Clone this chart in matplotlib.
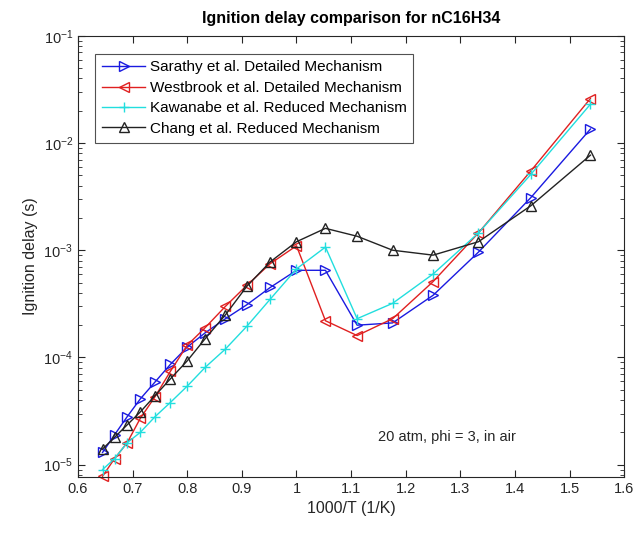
import numpy as np
import matplotlib
matplotlib.use("Agg")
import matplotlib.pyplot as plt
from matplotlib.ticker import LogLocator, NullFormatter

plt.rcParams['font.family'] = ['Liberation Sans', 'DejaVu Sans']

# --- data (1000/T and ignition delay in s) ---
inv_T = [0.645, 0.667, 0.690, 0.714, 0.741, 0.769, 0.800, 0.833, 0.870, 0.909,
         0.952, 1.000, 1.053, 1.111, 1.176, 1.250, 1.333, 1.429, 1.538]

sarathy = [1.3e-5, 1.9e-5, 2.8e-5, 4.1e-5, 5.9e-5, 8.6e-5, 1.25e-4, 1.7e-4, 2.3e-4, 3.1e-4,
           4.5e-4, 6.5e-4, 6.5e-4, 2.0e-4, 2.1e-4, 3.8e-4, 9.6e-4, 3.1e-3, 1.35e-2]
westbrook = [7.8e-6, 1.14e-5, 1.6e-5, 2.7e-5, 4.3e-5, 7.4e-5, 1.3e-4, 1.9e-4, 3.0e-4, 4.7e-4,
             7.5e-4, 1.1e-3, 2.2e-4, 1.6e-4, 2.3e-4, 5.1e-4, 1.45e-3, 5.5e-3, 2.6e-2]
kawanabe = [9e-6, 1.14e-5, 1.6e-5, 2.0e-5, 2.8e-5, 3.8e-5, 5.4e-5, 8.1e-5, 1.2e-4, 1.95e-4,
            3.5e-4, 6.7e-4, 1.07e-3, 2.3e-4, 3.2e-4, 6.0e-4, 1.45e-3, 5.1e-3, 2.3e-2]
chang = [1.4e-5, 1.8e-5, 2.35e-5, 3.1e-5, 4.4e-5, 6.3e-5, 9.3e-5, 1.5e-4, 2.5e-4, 4.6e-4,
         7.8e-4, 1.2e-3, 1.6e-3, 1.35e-3, 1.0e-3, 9.0e-4, 1.2e-3, 2.6e-3, 7.7e-3]

labels = ['Sarathy et al. Detailed Mechanism', 'Westbrook et al. Detailed Mechanism',
          'Kawanabe et al. Reduced Mechanism', 'Chang et al. Reduced Mechanism']

fig = plt.figure(figsize=(6.39, 5.34), dpi=100)
ax = fig.add_axes([0.122, 0.107, 0.855, 0.826])

ax.semilogy(inv_T, sarathy, color='#1a1ae0', marker='>', mfc='none', ms=7.5, lw=1.0,
            label=labels[0], clip_on=False)
ax.semilogy(inv_T, westbrook, color='#e02020', marker='<', mfc='none', ms=7.5, lw=1.0,
            label=labels[1], clip_on=False)
ax.semilogy(inv_T, kawanabe, color='#22dede', marker='+', ms=7.5, lw=1.0,
            label=labels[2], clip_on=False)
ax.semilogy(inv_T, chang, color='#222222', marker='^', mfc='none', ms=7.5, lw=1.0,
            label=labels[3], clip_on=False)

ax.set_xlim(0.6, 1.6)
ax.set_ylim(7.7e-6, 1e-1)
ax.set_xticks(np.arange(0.6, 1.61, 0.1))
ax.set_xticklabels(['0.6', '0.7', '0.8', '0.9', '1', '1.1', '1.2', '1.3', '1.4', '1.5', '1.6'])
ax.yaxis.set_major_locator(LogLocator(base=10, numticks=10))
ax.yaxis.set_minor_locator(LogLocator(base=10, subs=np.arange(2, 10), numticks=20))
ax.yaxis.set_minor_formatter(NullFormatter())

ax.tick_params(which='both', direction='in', top=True, right=True, colors='#262626',
               labelsize=10.5, labelcolor='#262626')
ax.tick_params(which='major', length=5)
ax.tick_params(which='minor', length=3)
for s in ax.spines.values():
    s.set_color('#262626')
    s.set_linewidth(0.8)

ax.set_xlabel('1000/T (1/K)', fontsize=11.5, color='#262626')
ax.set_ylabel('Ignition delay (s)', fontsize=11.5, color='#262626')
ax.set_title('Ignition delay comparison for nC16H34', fontsize=11.5, fontweight='bold', pad=9)

ax.text(1.276, 1.8e-5, '20 atm, phi = 3, in air', ha='center', va='center', fontsize=10.5,
        color='#262626')

leg = ax.legend(loc='upper left', bbox_to_anchor=(0.018, 0.977), fontsize=11,
                frameon=True, fancybox=False, edgecolor='#262626', handlelength=2.8,
                borderpad=0.45, labelspacing=0.42, handletextpad=0.3)
leg.get_frame().set_linewidth(0.8)

fig.savefig('out.png', dpi=100)
